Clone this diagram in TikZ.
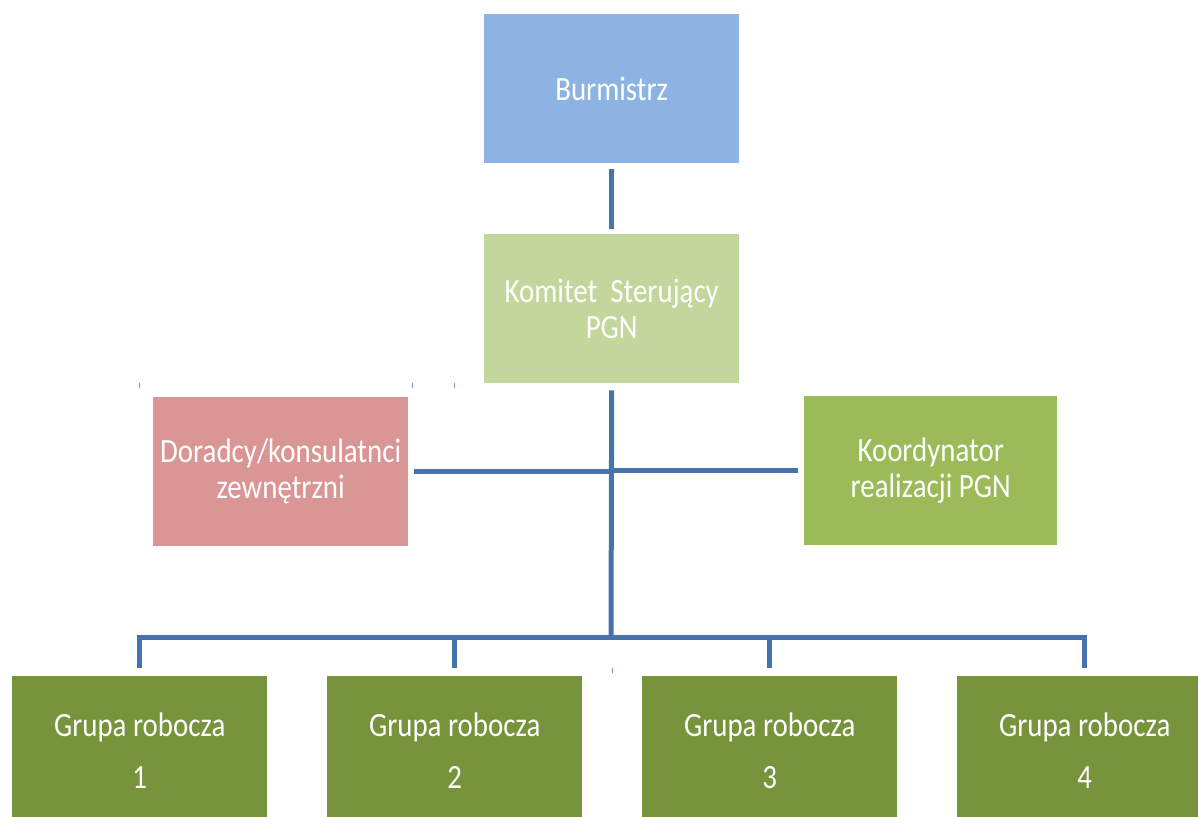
\documentclass[tikz,border=0pt]{standalone}
\usepackage{fontspec}
\setmainfont{Carlito}[FakeStretch=0.85]
\definecolor{cBur}{HTML}{8DB3E2}
\definecolor{cKom}{HTML}{C3D69B}
\definecolor{cDor}{HTML}{D99694}
\definecolor{cKoo}{HTML}{9BBB59}
\definecolor{cGrp}{HTML}{77933C}
\definecolor{lineblue}{RGB}{70,115,170}
\begin{document}
\begin{tikzpicture}[x=1pt,y=-1pt,
  box/.style={rectangle, minimum width=255pt, minimum height=149pt, inner sep=0pt,
    text=white, align=center, anchor=north west,
    font=\fontsize{34}{36}\selectfont},
  grp/.style={box, fill=cGrp, font=\fontsize{34}{52}\selectfont},
  conn/.style={draw=lineblue, line width=5pt},
  tick/.style={draw=lineblue!70, line width=1pt}]
\useasboundingbox (0,0) rectangle (1198,816);
\clip (0,0) rectangle (1198,816);
\node[box, fill=cBur] (bur) at (484,14) {Burmistrz};
\node[box, fill=cKom] (kom) at (484,234) {Komitet~~Sterujący\\PGN};
\node[box, fill=cDor] (dor) at (153,397) {Doradcy/konsulatnci\\zewnętrzni};
\node[box, fill=cKoo, minimum width=253pt] (koo) at (804,396) {Koordynator\\realizacji PGN};
\node[grp] (g1) at (12,676) {Grupa robocza\\1};
\node[grp] (g2) at (327,676) {Grupa robocza\\2};
\node[grp] (g3) at (642,676) {Grupa robocza\\3};
\node[grp] (g4) at (957,676) {Grupa robocza\\4};
\coordinate (j) at (611,637);
\draw[conn, shorten <=6pt, shorten >=5pt] (bur.south) -- (kom.north);
\draw[conn, shorten <=7pt] (kom.south) -- (j);
\draw[conn, shorten <=6pt] (dor.east) -- (dor.east -| kom.south);
\draw[conn, shorten >=6pt] (kom.south |- koo.west) -- (koo.west);
\foreach \g in {g1,g2,g3,g4} {
  \draw[conn, shorten >=8pt] (j) -| (\g.north);
}
\draw[tick] (139,383) -- (139,388);
\draw[tick] (412,383) -- (412,388);
\draw[tick] (454,383) -- (454,388);
\draw[tick] (612,668) -- (612,673);
\end{tikzpicture}
\end{document}
